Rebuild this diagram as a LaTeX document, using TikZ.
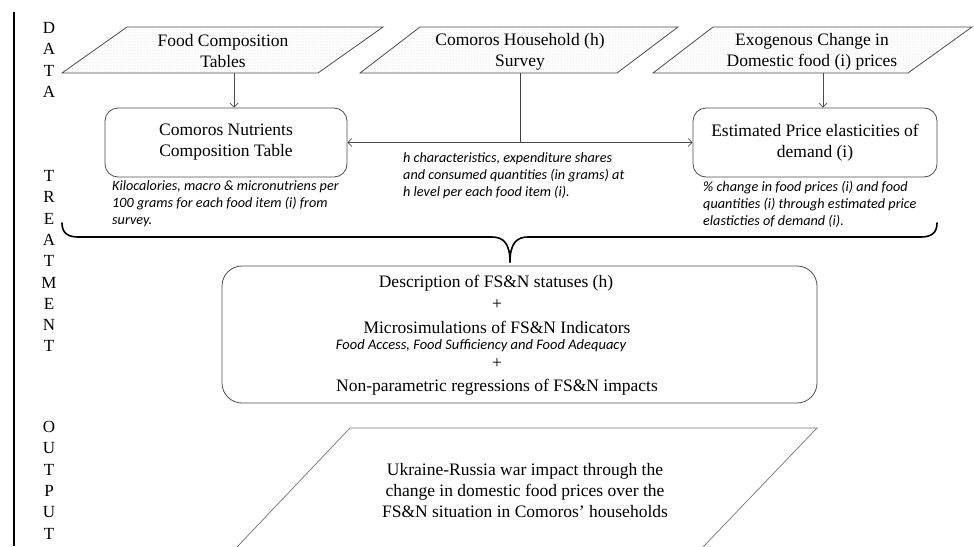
\documentclass[tikz,border=0pt]{standalone}
\usepackage{fontspec}
\setmainfont{Liberation Serif}
\newfontfamily\calibfont{Carlito}
\usetikzlibrary{arrows.meta,patterns}
\begin{document}
\begin{tikzpicture}[x=1pt,y=-1pt,
  serif/.style={font=\fontsize{17.5}{21}\selectfont, align=center, inner sep=0pt},
  note/.style={font=\calibfont\itshape\fontsize{14.2}{16.8}\selectfont, align=left, inner sep=0pt, anchor=base west},
  para/.style={draw=black!70, line width=0.8pt, pattern=dots, pattern color=black!22},
  rbox/.style={draw=black!70, line width=0.8pt, rounded corners=13pt},
  arr/.style={draw=black!70, line width=0.7pt, -{Straight Barb[length=4pt,width=8pt]}},
  conn/.style={draw=black!75, line width=0.8pt},
  side/.style={font=\fontsize{17}{20}\selectfont, inner sep=0pt}]
\useasboundingbox (0,0) rectangle (974,546);
% left rule
\draw[line width=1.6pt] (14,12) -- (14,546);
% side letters
\foreach \ch [count=\i] in {D,A,T,A}
  \node[side] (da\i) at (49,{28+21.3*(\i-1)}) {\ch};
\foreach \ch [count=\i] in {T,R,E,A,T,M,E,N,T}
  \node[side] (tr\i) at (49,{176+21.3*(\i-1)}) {\ch};
\foreach \ch [count=\i] in {O,U,T,P,U,T}
  \node[side] (ou\i) at (49,{427+21.3*(\i-1)}) {\ch};
% data parallelograms
\path[para] (62,73) -- (127,27) -- (383,27) -- (318,73) -- cycle;
\node[serif] (fct) at (223,51.5) {Food Composition\\Tables};
\coordinate (fctb) at (234,73);
\path[para] (360,73) -- (420,27) -- (678,27) -- (617,73) -- cycle;
\node[serif] (chs) at (520,51.5) {Comoros Household (h)\\Survey};
\coordinate (chsb) at (520,73);
\path[para] (653,73) -- (713,27) -- (972,27) -- (908,73) -- cycle;
\node[serif] (exo) at (812,51.5) {Exogenous Change in\\Domestic food (i) prices};
\coordinate (exob) at (823,73);
% treatment boxes
\node[rbox, serif, minimum width=242pt, minimum height=69pt] (cnt) at (226,142.5) {Comoros Nutrients\\Composition Table};
\node[rbox, serif, minimum width=244pt, minimum height=69pt] (epe) at (815,142.5) {Estimated Price elasticities of\\demand (i)};
% connectors
\draw[arr] (fctb) -- (fctb |- cnt.north);
\draw[arr] (exob) -- (exob |- epe.north);
\draw[conn] (chsb) -- (chsb |- cnt.east);
\draw[arr, {Straight Barb[length=4pt,width=8pt]}-{Straight Barb[length=4pt,width=8pt]}] (cnt.east) -- (epe.west);
% notes (anchor = baseline of last line)
\node[note] (n1) at (112,224.5) {Kilocalories, macro \& micronutriens per\\100 grams for each food item (i) from\\survey.};
\node[note] (n2) at (403,196.5) {h characteristics, expenditure shares\\and consumed quantities (in grams) at\\h level per each food item (i).};
\node[note] (n3) at (703,225.5) {\% change in food prices (i) and food\\quantities (i) through estimated price\\elasticties of demand (i).};
% brace
\draw[line width=1.6pt, line cap=round] (62,223) .. controls (62,233) and (68,237) .. (78,237) -- (492,237) .. controls (503,237) and (510,243) .. (510,262);
\draw[line width=1.6pt, line cap=round] (937,223) .. controls (937,233) and (931,237) .. (921,237) -- (528,237) .. controls (517,237) and (510,243) .. (510,262);
% central box
\node[rbox, rounded corners=20pt, minimum width=595pt, minimum height=137pt] (fsn) at (519.5,334.5) {};
\node[serif] (desc) at (496,283) {Description of FS\&N statuses (h)};
\node[serif] (plusa) at (497,305) {+};
\node[serif] (micro) at (497,327) {Microsimulations of FS\&N Indicators};
\node[font=\calibfont\itshape\fontsize{14.5}{16}\selectfont, inner sep=0pt] (sub) at (481,346) {Food Access, Food Sufficiency and Food Adequacy};
\node[serif] (plusb) at (497,364) {+};
\node[serif] (npar) at (497,387) {Non-parametric regressions of FS\&N impacts};
% output parallelogram
\draw[black!55, line width=0.7pt] (237,547) -- (350,428) -- (817,428) -- (703,547);
\node[serif] (ukr) at (525,490.5) {Ukraine-Russia war impact through the\\change in domestic food prices over the\\FS\&N situation in Comoros’ households};
\end{tikzpicture}
\end{document}
